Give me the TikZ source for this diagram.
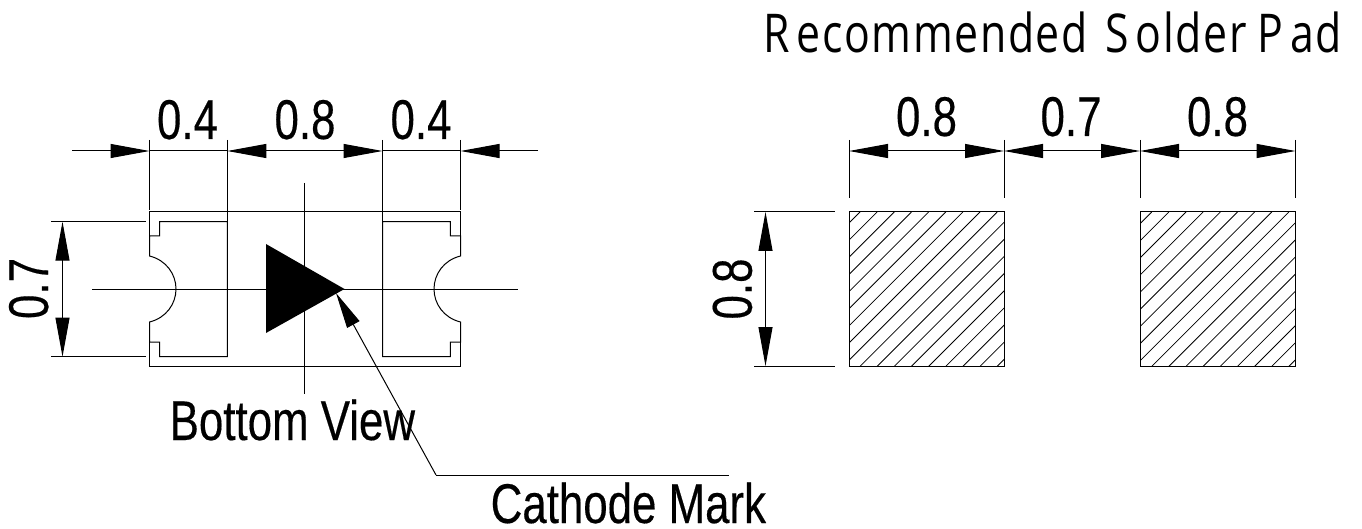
\documentclass[tikz,border=0pt]{standalone}
\usepackage{fontspec}
\usetikzlibrary{arrows.meta}
\newfontfamily\cadfont[FakeStretch=0.783,FakeBold=0.3]{Liberation Sans}
\newfontfamily\titlefont[FakeStretch=0.8,LetterSpace=3]{Open Sans}
\tikzset{
  x=1pt,y=-1pt,
  thin line/.style={line width=1pt,black},
  dimline/.style={line width=1pt,black},
  dimtip/.tip={Triangle[length=39pt,width=14pt]},
  dimtext/.style={font=\cadfont\fontsize{56}{56}\selectfont,inner sep=0pt,anchor=base},
  label text/.style={font=\cadfont\fontsize{56}{56}\selectfont,inner sep=0pt,anchor=base west},
  hatch line/.style={line width=.8pt,black},
}
\begin{document}
\begin{tikzpicture}
\useasboundingbox (0,0) rectangle (1362,529);
% ---- bottom view: outer outline with notches
\draw[thin line] (149.5,236) -- (149.5,212) -- (460.5,212) -- (460.5,236);
\draw[thin line] (149.5,342) -- (149.5,366) -- (460.5,366) -- (460.5,342);
\draw[thin line] (227.3,221.7) -- (159.5,221.7) -- (159.5,236) -- (149.5,236) -- (149.5,256)
   .. controls (166,260) and (176,274) .. (176,289)
   .. controls (176,304) and (166,318) .. (149.5,322)
   -- (149.5,342) -- (159.5,342) -- (159.5,356.7) -- (227.3,356.7) -- cycle;
\draw[thin line] (382.5,221.7) -- (450.3,221.7) -- (450.3,236) -- (460.5,236) -- (460.5,256)
   .. controls (444,260) and (434,274) .. (434,289)
   .. controls (434,304) and (444,318) .. (460.5,322)
   -- (460.5,342) -- (450.3,342) -- (450.3,356.7) -- (382.5,356.7) -- cycle;
% centre lines
\coordinate (cl) at (92,289); \coordinate (cr) at (518,289);
\coordinate (ct) at (304.8,183); \coordinate (cb) at (304.8,394);
\draw[thin line] (cl) -- (cr);
\draw[thin line] (ct) -- (cb);
% cathode triangle
\fill[black] (266,244) -- (344.5,289) -- (266,333) -- cycle;
% top dimensions
\coordinate (dL) at (72,151); \coordinate (dA) at (149.5,151); \coordinate (dB) at (227.3,151);
\coordinate (dC) at (382.5,151); \coordinate (dD) at (460.5,151); \coordinate (dR) at (538,151);
\draw[thin line] (149.5,140) -- (149.5,210);
\draw[thin line] (227.3,140) -- (227.3,221.7);
\draw[thin line] (382.5,140) -- (382.5,221.7);
\draw[thin line] (460.5,140) -- (460.5,210);
\draw[dimline,-{dimtip}] (dL) -- (dA);
\draw[dimline] (dA) -- (dB);
\draw[dimline,{dimtip}-{dimtip}] (dB) -- (dC);
\draw[dimline] (dC) -- (dD);
\draw[dimline,-{dimtip}] (dR) -- (dD);
\node[dimtext] (t1) at (187.5,139) {0.4};
\node[dimtext] (t2) at (305,139) {0.8};
\node[dimtext] (t3) at (421,139) {0.4};
% left dimension
\draw[thin line] (51,221.7) -- (146,221.7);
\draw[thin line] (51,356.7) -- (146,356.7);
\coordinate (vT) at (62.5,221.7); \coordinate (vB) at (62.5,356.7);
\draw[dimline,{dimtip}-{dimtip}] (vT) -- (vB);
\node[dimtext,rotate=90] (t4) at (48,288.5) {0.7};
% leader
\coordinate (lTip) at (336,293); \coordinate (lKnee) at (436,475); \coordinate (lEnd) at (729,475);
\draw[thin line,-{dimtip[length=36pt]}] (lKnee) -- (lTip);
\draw[thin line] (lKnee) -- (lEnd);
\node[label text] (bv) at (169.5,440) {Bottom View};
\node[label text] (cm) at (490.5,523) {Cathode Mark};
% ---- title
\node[inner sep=0pt,anchor=base west,font=\titlefont\fontsize{53.5}{53.5}\selectfont] (title) at (763,53)
  {R\kern7pt ecommended\kern5pt{} S\kern7pt older\kern-2pt{} P\kern7pt ad};
% ---- pads
\coordinate (pAtl) at (849,212); \coordinate (pAbr) at (1004,366);
\coordinate (pBtl) at (1140,212); \coordinate (pBbr) at (1295.5,366);
\begin{scope}
\clip (pAtl) rectangle (pAbr);
\foreach \k in {0,...,17} \draw[hatch line] ({860+\k*17.15},212) -- +(-170,170);
\end{scope}
\begin{scope}
\clip (pBtl) rectangle (pBbr);
\foreach \k in {0,...,17} \draw[hatch line] ({1151.7+\k*17.15},212) -- +(-170,170);
\end{scope}
\draw[thin line] (pAtl) rectangle (pAbr);
\draw[thin line] (pBtl) rectangle (pBbr);
% right dims
\coordinate (eA) at (849,151); \coordinate (eB) at (1004,151); \coordinate (eC) at (1140,151); \coordinate (eD) at (1295.5,151);
\foreach \x in {849,1004,1140,1295.5} \draw[thin line] (\x,140) -- (\x,198);
\draw[dimline,{dimtip}-{dimtip}] (eA) -- (eB);
\draw[dimline,{dimtip}-{dimtip}] (eB) -- (eC);
\draw[dimline,{dimtip}-{dimtip}] (eC) -- (eD);
\node[dimtext] (t5) at (926.5,136) {0.8};
\node[dimtext] (t6) at (1071,136) {0.7};
\node[dimtext] (t7) at (1217.5,136) {0.8};
\draw[thin line] (754,212) -- (835,212);
\draw[thin line] (754,366) -- (835,366);
\coordinate (wT) at (765.5,212); \coordinate (wB) at (765.5,366);
\draw[dimline,{dimtip}-{dimtip}] (wT) -- (wB);
\node[dimtext,rotate=90] (t8) at (751.7,289) {0.8};
\end{tikzpicture}
\end{document}
